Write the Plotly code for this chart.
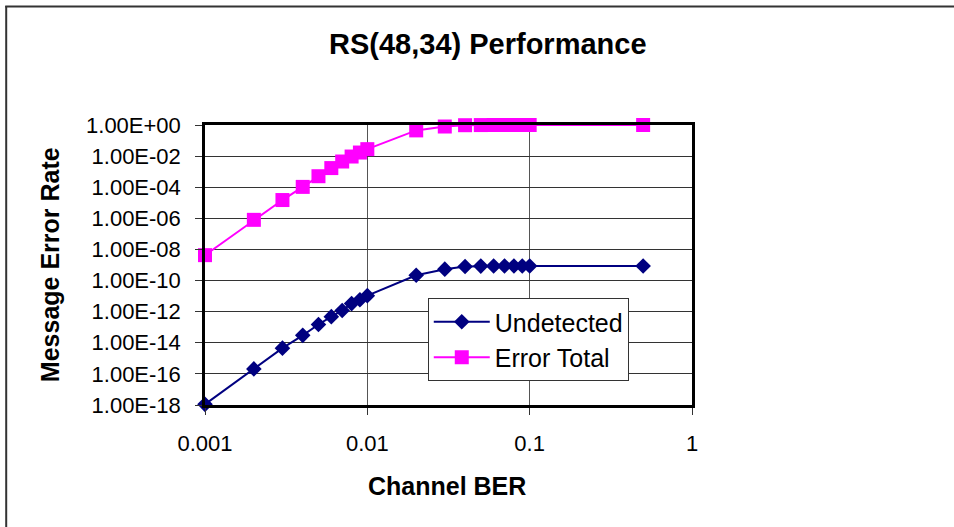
import plotly.graph_objects as go

channel_ber = [0.001, 0.002, 0.003, 0.004, 0.005, 0.006, 0.007, 0.008, 0.009, 0.01,
               0.02, 0.03, 0.04, 0.05, 0.06, 0.07, 0.08, 0.09, 0.1, 0.5]
undetected = [1.1e-18, 2.1e-16, 4.5e-15, 3.0e-14, 1.5e-13, 4.8e-13, 1.2e-12, 3.3e-12, 5.9e-12, 1.07e-11,
              2.2e-10, 5.4e-10, 8.0e-10, 8.5e-10, 8.6e-10, 8.7e-10, 8.7e-10, 8.7e-10, 8.7e-10, 8.7e-10]
error_total = [4.3e-9, 8.0e-7, 1.5e-5, 1.05e-4, 5.1e-4, 1.7e-3, 4.5e-3, 9.4e-3, 1.7e-2, 2.8e-2,
               0.45, 0.8, 0.97, 0.99, 1.0, 1.0, 1.0, 1.0, 1.0, 1.0]

y_tickvals = [1e0, 1e-2, 1e-4, 1e-6, 1e-8, 1e-10, 1e-12, 1e-14, 1e-16, 1e-18]
y_ticktext = ["1.00E+00", "1.00E-02", "1.00E-04", "1.00E-06", "1.00E-08",
              "1.00E-10", "1.00E-12", "1.00E-14", "1.00E-16", "1.00E-18"]
x_tickvals = [0.001, 0.01, 0.1, 1]
x_ticktext = ["0.001", "0.01", "0.1", "1"]

FONT = "Liberation Sans, Arial, sans-serif"

fig = go.Figure()
fig.add_trace(go.Scatter(
    x=channel_ber, y=undetected, name="Undetected", mode="lines+markers",
    line=dict(color="#000080", width=2),
    marker=dict(symbol="diamond", size=12, color="#000080"),
    cliponaxis=False, legendgroup="a"))
fig.add_trace(go.Scatter(
    x=channel_ber, y=error_total, name="Error Total", mode="lines+markers",
    line=dict(color="#FF00FF", width=2),
    marker=dict(symbol="square", size=14, color="#FF00FF"),
    cliponaxis=False, legendgroup="b"))

L, R, T, B = 205, 692.5, 125, 405
W, H = 954, 527
pw, ph = R - L, B - T

def px(x):
    return (x - L) / pw

def py(y):
    return (B - y) / ph

fig.update_layout(
    width=W, height=H,
    margin=dict(l=L, r=W - R, t=T, b=H - B),
    paper_bgcolor="white", plot_bgcolor="white",
    font=dict(family=FONT, size=22, color="black"),
    showlegend=True,
    legend=dict(x=px(428), y=py(298), xanchor="left", yanchor="top",
                bgcolor="white", bordercolor="#333333", borderwidth=1,
                font=dict(size=25), tracegroupgap=0, traceorder="grouped",
                itemwidth=56),
    xaxis=dict(type="log", range=[-3, 0], tickvals=x_tickvals, ticktext=x_ticktext,
               showgrid=True, gridcolor="#555555", gridwidth=1,
               showline=True, linecolor="black", linewidth=2.5, mirror=True,
               ticks="outside", ticklen=7, tickcolor="#333333",
               ticklabelstandoff=10, zeroline=False),
    yaxis=dict(type="log", range=[-18, 0], tickvals=y_tickvals, ticktext=y_ticktext,
               showgrid=True, gridcolor="#333333", gridwidth=1,
               showline=True, linecolor="black", linewidth=2.5, mirror=True,
               ticks="outside", ticklen=7, tickcolor="#333333",
               ticklabelstandoff=10, zeroline=False),
    annotations=[
        dict(text="<b>RS(48,34) Performance</b>", x=px(488), y=py(44), xref="paper", yref="paper",
             showarrow=False, font=dict(size=29), xanchor="center", yanchor="middle"),
        dict(text="<b>Channel BER</b>", x=px(447), y=py(486), xref="paper", yref="paper",
             showarrow=False, font=dict(size=25), xanchor="center", yanchor="middle"),
        dict(text="<b>Message Error Rate</b>", x=px(50), y=py(265), xref="paper", yref="paper",
             showarrow=False, font=dict(size=25), textangle=-90, xanchor="center", yanchor="middle"),
    ],
    shapes=[
        dict(type="line", xref="paper", yref="paper", x0=px(5), x1=px(960), y0=py(6.5), y1=py(6.5),
             line=dict(color="#333333", width=2)),
        dict(type="line", xref="paper", yref="paper", x0=px(6), x1=px(6), y0=py(6), y1=py(540),
             line=dict(color="#333333", width=2)),
    ],
)

fig.write_html("out.html", config={"displayModeBar": False},
               post_script="document.body.style.margin='0px';")
